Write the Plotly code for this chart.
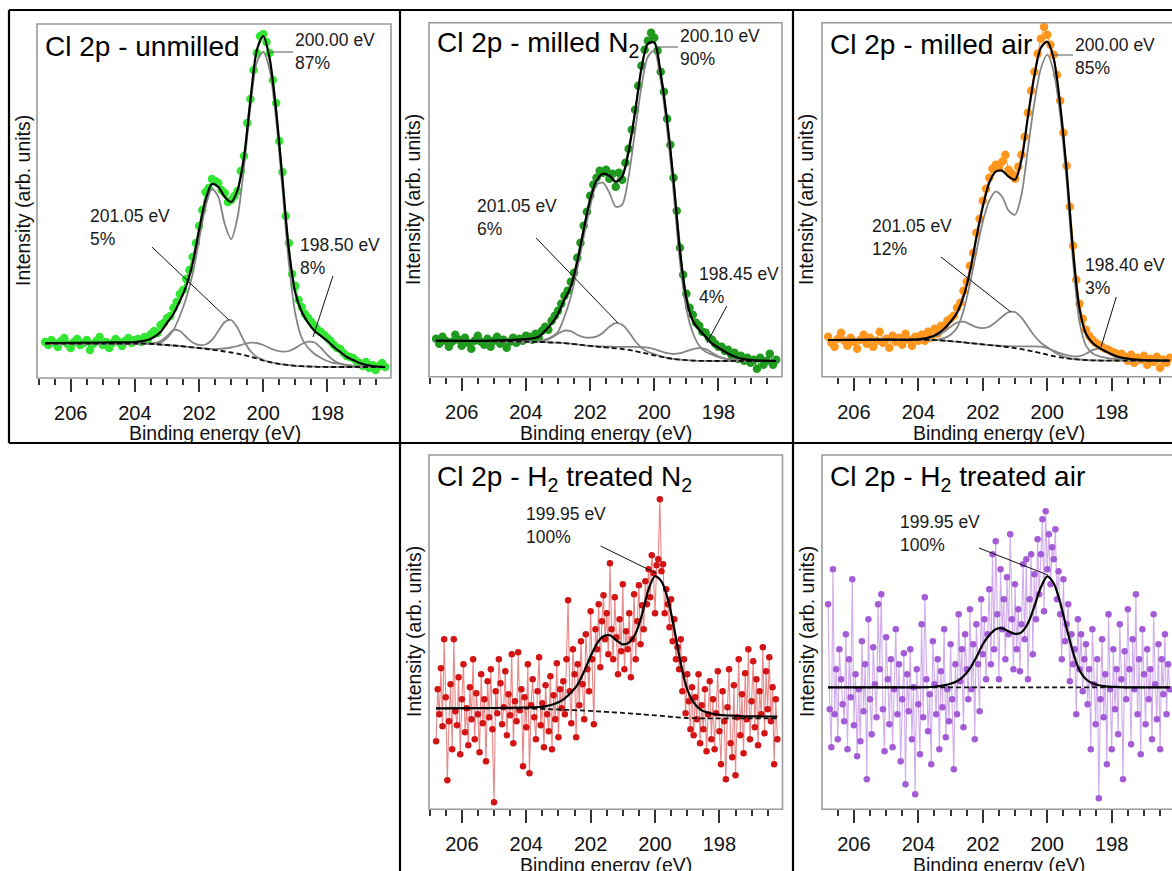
import plotly.graph_objects as go

FIG_W, FIG_H = 1172, 871
FONT = "Liberation Sans, Arial, Helvetica, sans-serif"

# ---------------- acquisition grids (binding energy, eV) ----------------
TOP_E_START, TOP_E_STEP = 206.8, 0.1
BOT_E_START, BOT_E_STEP = 206.8, 0.05

KNOTS = [206.8, 205.0, 204.0, 203.6, 203.4, 203.2, 203.0, 202.8, 202.6, 202.4,
         202.2, 202.0, 201.8, 201.6, 201.4, 201.2, 201.0, 200.8, 200.6, 200.4,
         200.2, 200.0, 199.8, 199.6, 199.4, 199.2, 199.0, 198.8, 198.6, 198.4,
         198.2, 198.0, 197.8, 197.6, 197.4, 197.2, 197.0, 196.6, 196.2]
FLAT_KNOTS = [206.8, 196.2]

# ---------------- Cl 2p - unmilled ----------------
UNMILLED_DATA = [36, 33, 38, 35, 31, 37, 40, 34, 30, 36, 39, 33, 35, 38, 28, 34, 37, 41, 33, 36,
                 30, 35, 39, 36, 32, 37, 40, 35, 38,
                 39, 36, 41, 38, 44, 47, 45, 53, 55, 60,
                 62, 70, 76, 84, 88, 99, 108, 121, 135, 152,
                 168, 186, 190, 199, 197, 195, 188, 185, 176, 178,
                 182, 187, 207, 222, 255, 279, 308, 325, 342, 344,
                 336, 325, 298, 275, 237, 206, 162, 135, 104, 92,
                 78, 71, 64, 60, 56, 52, 48, 46, 43, 40,
                 37, 33, 30, 29, 25, 22, 21, 20, 17, 15,
                 12, 16, 10, 13, 8, 12, 15, 11]
UNMILLED_ENV = [35, 35.5, 36, 38, 41, 46, 55, 64, 77, 92, 115, 148, 178, 194, 191, 181, 176, 188, 221, 278,
                328, 342, 319, 268, 198, 128, 85, 66, 55, 47, 42, 37, 31, 26, 21, 18, 15, 12, 11]
UNMILLED_BG = [34.5, 34.5, 34.5, 34.3, 34, 33.5, 33, 32.5, 32, 31.3, 30.6, 30, 29.2, 28.3, 27.5, 26.5,
               25.5, 24.3, 23, 21.3, 19.5, 17.5, 16, 14.7, 13.6, 12.8, 12.2, 11.8, 11.5, 11.3, 11.1,
               11, 11, 11, 11, 11, 11, 11, 11]
UNMILLED_C200 = [34.5, 34.5, 34.5, 34.4, 34.5, 35.5, 40, 48, 62, 80, 104, 138, 171, 189, 181, 154, 139,
                 161, 211, 271, 316, 326, 308, 258, 188, 114, 64, 40, 30, 24, 20, 17, 15, 14, 13, 12.3,
                 12, 11.3, 11]
UNMILLED_C201 = [34.5, 34.5, 34.5, 34.4, 34.8, 37, 42, 48, 47, 41, 35.5, 33, 33.5, 38, 47, 56, 58, 50,
                 37, 27, 21, 18, 16, 14.7, 13.6, 12.8, 12.2, 11.8, 11.5, 11.3, 11.1, 11, 11, 11, 11,
                 11, 11, 11, 11]
UNMILLED_C198 = [34.5, 34.5, 34.5, 34.3, 34, 33.5, 33, 32.5, 32, 31.3, 30.6, 30, 29.5, 29, 29, 29.5,
                 30.5, 32, 34, 35.3, 35, 33, 30, 27.5, 26.3, 27, 30, 34, 36.3, 35.5, 30, 23, 17.5,
                 14.5, 12.8, 12, 11.5, 11.1, 11]

# ---------------- Cl 2p - milled N2 ----------------
MILLED_N2_DATA = [38, 33, 40, 36, 30, 35, 42, 37, 31, 39, 34, 28, 36, 41, 35, 32, 38, 30, 36, 40,
                  33, 37, 29, 35, 39, 34, 38, 36, 41,
                  40, 37, 43, 39, 46, 50, 47, 56, 61, 66,
                  73, 81, 86, 95, 104, 119, 134, 151, 165, 181,
                  192, 199, 206, 204, 207, 198, 203, 190, 204, 197,
                  214, 228, 247, 267, 291, 311, 327, 336, 344, 339,
                  326, 305, 285, 258, 232, 199, 166, 129, 102, 83,
                  69, 62, 54, 51, 45, 44, 39, 37, 33, 30,
                  30, 26, 27, 22, 24, 18, 21, 16, 19, 14,
                  17, 8, 19, 12, 16, 23, 12, 17]
MILLED_N2_ENV = [36, 36, 37.5, 40, 46, 53, 63, 77, 90, 115, 147, 177, 196, 203, 201, 195, 200, 225, 264,
                 308, 333, 334, 303, 256, 196, 126, 78, 56, 47, 40, 33, 29, 25, 21.5, 19, 17.5, 16.5,
                 16, 15.7]
MILLED_N2_BG = [35.5, 35.5, 35, 34.8, 34.5, 34.2, 34, 33.6, 33, 32.3, 31.5, 30.8, 30, 29.5, 29, 28.4,
                27.7, 26.8, 25.6, 24.2, 22.8, 21.3, 20, 18.7, 17.7, 17, 16.5, 16.1, 15.9, 15.8, 15.7,
                15.7, 15.7, 15.7, 15.7, 15.7, 15.7, 15.7, 15.7]
MILLED_N2_C200 = [35.5, 35.5, 35, 35, 37, 40, 45, 60, 80, 108, 140, 170, 192, 194, 184, 170, 172, 200,
                  245, 290, 320, 326, 296, 247, 185, 115, 68, 44, 31, 25, 22, 19.5, 18, 17, 16.5,
                  16.2, 16, 15.8, 15.7]
MILLED_N2_C201 = [35.5, 35.5, 35, 35, 36, 39, 43, 46, 45.5, 42, 39.5, 39, 40, 44, 50, 53.5, 52, 45, 36,
                  29, 25, 22.5, 20.5, 18.9, 17.8, 17, 16.5, 16.1, 15.9, 15.8, 15.7, 15.7, 15.7, 15.7,
                  15.7, 15.7, 15.7, 15.7, 15.7]
MILLED_N2_C198 = [35.5, 35.5, 35, 34.8, 34.5, 34.2, 34, 33.6, 33, 32.3, 31.5, 30.8, 30.5, 30.2, 30,
                  29.8, 29.8, 29.8, 29.8, 29.6, 29, 27.5, 25.5, 23.5, 22.7, 23.5, 25.5, 27.5, 28.5,
                  27.5, 24, 20.5, 18, 16.8, 16.2, 15.9, 15.8, 15.7, 15.7]

# ---------------- Cl 2p - milled air ----------------
MILLED_AIR_DATA = [40, 34, 30, 38, 44, 36, 31, 39, 35, 28, 37, 42, 33, 39, 30, 36, 45, 34, 38, 29,
                   41, 35, 39, 32, 43, 37, 31, 40, 36,
                   42, 36, 45, 39, 48, 43, 51, 50, 56, 58,
                   61, 69, 74, 86, 95, 111, 124, 144, 158, 176,
                   188, 199, 208, 212, 209, 215, 222, 207, 203, 198,
                   210, 222, 240, 264, 286, 305, 323, 338, 350, 342,
                   332, 322, 302, 276, 244, 211, 170, 131, 97, 73,
                   58, 47, 41, 37, 34, 32, 30, 28, 27, 25,
                   24, 19, 23, 20, 16, 22, 14, 19, 17, 21,
                   12, 18, 15, 20, 9, 17, 14, 19]
MILLED_AIR_ENV = [36.7, 37, 37.3, 40, 43, 48, 55, 64, 80, 105, 139, 170, 194, 205, 206, 200, 197, 217,
                  260, 301, 329, 335, 318, 272, 206, 126, 68, 43, 34, 29, 25.5, 22.5, 20, 18.5, 17.5,
                  17, 16.5, 16.2, 16]
MILLED_AIR_BG = [36.7, 37, 37, 36.8, 36.5, 36, 35.5, 35, 34.3, 33.5, 33, 32.3, 31.5, 31, 30.2, 29.5,
                 28.5, 27.5, 26.3, 25, 23.5, 22, 20.5, 19.3, 18.3, 17.5, 17, 16.6, 16.4, 16.2, 16, 16,
                 16, 16, 16, 16, 16, 16, 16]
MILLED_AIR_C200 = [36.7, 37, 37, 36.8, 37, 38.5, 42, 49, 66, 93, 125, 155, 176, 185, 180, 166, 162, 182,
                   228, 274, 308, 322, 305, 262, 196, 115, 55, 31, 23.5, 20.5, 19, 18, 17.3, 16.8,
                   16.5, 16.3, 16.1, 16, 16]
MILLED_AIR_C201 = [36.7, 37, 37.2, 39, 41.5, 45, 50, 54, 55, 52.5, 49.5, 48.5, 50, 54.5, 60, 64.5, 64.5,
                   59, 50, 41, 34, 29.5, 25, 21.5, 19.2, 17.9, 17.2, 16.7, 16.4, 16.2, 16, 16, 16, 16,
                   16, 16, 16, 16, 16]
MILLED_AIR_C198 = [36.7, 37, 37, 36.8, 36.5, 36, 35.5, 35, 34.3, 33.5, 33, 32.3, 31.6, 31.2, 30.8, 30.5,
                   30.3, 30.3, 30.4, 30.4, 30, 28.5, 26, 23.5, 21.5, 20.3, 20.5, 23, 26.5, 28.2, 26,
                   21.5, 18.5, 17, 16.4, 16.1, 16, 16, 16]

# ---------------- Cl 2p - H2 treated N2 ----------------
H2_N2_DATA = [68, 120, 95, 141, 83, 170, 112, 29, 88, 125,
              60, 170, 98, 84, 132, 55, 110, 145, 77, 101,
              64, 122, 90, 150, 70, 116, 95, 57, 135, 86,
              110, 48, 128, 92, 140, 80, 7, 118, 96, 150,
              126, 85, 102, 138, 74, 115, 94, 155, 66, 108,
              88, 157, 99, 120, 43, 112, 82, 145, 36, 104,
              130, 92, 70, 118, 152, 84, 106, 62, 124, 95,
              78, 133, 60, 114, 90, 146, 72, 120, 101, 128,
              95, 150, 209, 118, 86, 160, 135, 72, 145, 104,
              168, 125, 90, 175, 140, 118, 198, 150, 85, 180,
              160, 205, 142, 188, 214, 170, 196, 155, 246, 180,
              150, 212, 172, 135, 190, 158, 225, 140, 178, 160,
              196, 132, 170, 215, 150, 188, 224, 165, 204, 180,
              228, 205, 240, 212, 254, 236, 196, 244, 250, 310,
              238, 245, 196, 220, 205, 182, 210, 168, 190, 150,
              162, 140, 170, 118, 150, 96, 135, 108, 80, 122,
              74, 112, 90, 135, 66, 104, 80, 120, 58, 95,
              128, 70, 110, 60, 96, 138, 78, 45, 118, 88,
              30, 102, 140, 66, 52, 124, 34, 92, 150, 74,
              115, 56, 136, 90, 160, 70, 108, 148, 82, 130,
              64, 118, 95, 162, 76, 138, 100, 152, 88, 122,
              45, 110, 70]
H2_N2_ENV = [101, 101.3, 101.8, 102.3, 103, 104.5, 107, 111, 117, 125, 138, 153, 166, 173, 174, 169,
             165, 167, 176, 195, 220, 233, 228, 210, 180, 146, 120, 107, 100, 97, 95.5, 94.5, 94,
             93.6, 93.3, 93, 93, 92.8, 92.6]
H2_N2_BG = [101, 101, 100.7, 100.5, 100.3, 100, 99.8, 99.5, 99.2, 99, 98.7, 98.4, 98, 97.6, 97.2,
            96.8, 96.4, 96, 95.5, 95, 94.5, 94, 93.4, 92.8, 92.2, 91.7, 91.3, 91.1, 91, 91, 91, 91,
            91, 91, 91, 91, 91, 91, 91]

# ---------------- Cl 2p - H2 treated air ----------------
H2_AIR_DATA = [205, 100, 62, 240, 95, 140, 70, 160, 130, 105,
               88, 175, 60, 150, 112, 230, 84, 135, 53, 120,
               68, 168, 98, 145, 30, 190, 110, 75, 162, 125,
               92, 205, 140, 215, 100, 58, 172, 130, 85, 150,
               62, 120, 180, 95, 145, 48, 110, 156, 25, 135,
               98, 160, 70, 122, 15, 140, 105, 55, 185, 92,
               212, 130, 78, 115, 45, 168, 125, 95, 150, 60,
               138, 102, 180, 72, 120, 88, 165, 110, 40, 145,
               95, 195, 128, 160, 82, 175, 140, 110, 200, 120,
               165, 70, 185, 145, 98, 210, 155, 190, 130, 175,
               220, 145, 255, 160, 268, 195, 130, 240, 180, 210,
               150, 232, 175, 275, 190, 140, 225, 160, 200, 138,
               185, 245, 170, 250, 130, 210, 255, 155, 235, 190,
               270, 215, 255, 290, 198, 298, 240, 275, 225, 262,
               250, 280, 210, 238, 195, 150, 230, 168, 185, 205,
               128, 175, 145, 160, 95, 190, 140, 175, 118, 150,
               165, 105, 140, 60, 180, 125, 85, 150, 11, 110,
               170, 92, 135, 45, 195, 120, 60, 160, 100, 140,
               75, 185, 130, 30, 158, 110, 200, 140, 65, 170,
               120, 215, 95, 150, 55, 180, 135, 85, 160, 110,
               140, 70, 195, 125, 90, 165, 60, 150, 115, 175,
               95, 145, 120]
H2_AIR_ENV = [122, 122, 122, 122.3, 123, 124, 125.5, 128, 133, 141, 152, 165, 174, 180, 181, 178,
              175.5, 177, 186, 203, 222, 233, 226, 207, 181, 157, 139, 130, 126, 124, 123, 122.5,
              122.3, 122, 122, 122, 122, 122, 122]
H2_AIR_BG = [122, 122]

# ---------------- styling ----------------
GRAY = "#858585"
BOX = "#9a9a9a"

# panel geometry in pixels: x0, x1, y0(top), y1(bottom), energy left, energy right
GEOM = [
    (37, 391, 24, 378, 207.05, 196.02),
    (429, 782, 22.7, 376.7, 207.02, 196.02),
    (822, 1172, 22.7, 376.7, 206.99, 196.13),
    (429, 782.5, 455, 809.3, 207.02, 196.04),
    (822, 1172, 455, 809.3, 206.99, 196.13),
]

PANELS = [
    dict(title="Cl 2p - unmilled", data=UNMILLED_DATA, start=TOP_E_START, step=TOP_E_STEP,
         color="#33e633", line="#33e633", msize=8.5,
         comps=[UNMILLED_C200, UNMILLED_C201, UNMILLED_C198], bg=(KNOTS, UNMILLED_BG), env=UNMILLED_ENV,
         labels=[(199.07, 327, "200.00 eV<br>87%"), (205.46, 151, "201.05 eV<br>5%"),
                 (198.92, 121.5, "198.50 eV<br>8%")],
         leaders=[(199.88, 326, 199.07, 326, "#555555"), (203.47, 131, 201.07, 58, "#111111"),
                  (197.83, 102, 198.45, 41, "#111111")]),
    dict(title="Cl 2p - milled N<sub>2</sub>", data=MILLED_N2_DATA, start=TOP_E_START, step=TOP_E_STEP,
         color="#1f9a1f", line="#1f9a1f", msize=8.5,
         comps=[MILLED_N2_C200, MILLED_N2_C201, MILLED_N2_C198], bg=(KNOTS, MILLED_N2_BG), env=MILLED_N2_ENV,
         labels=[(199.26, 328.7, "200.10 eV<br>90%"), (205.58, 158.7, "201.05 eV<br>6%"),
                 (198.67, 91.2, "198.45 eV<br>4%")],
         leaders=[(199.92, 329.7, 199.26, 329.7, "#555555"), (203.68, 138.7, 201.13, 53.7, "#111111"),
                  (197.74, 70.7, 198.36, 33.7, "#111111")]),
    dict(title="Cl 2p - milled air", data=MILLED_AIR_DATA, start=TOP_E_START, step=TOP_E_STEP,
         color="#ff961e", line="#ff961e", msize=8.5,
         comps=[MILLED_AIR_C200, MILLED_AIR_C201, MILLED_AIR_C198], bg=(KNOTS, MILLED_AIR_BG), env=MILLED_AIR_ENV,
         labels=[(199.2, 319.7, "200.00 eV<br>85%"), (205.51, 138.7, "201.05 eV<br>12%"),
                 (198.89, 99.7, "198.40 eV<br>3%")],
         leaders=[(199.82, 321.7, 199.2, 321.7, "#555555"), (203.3, 119.7, 201.13, 64.7, "#111111"),
                  (197.86, 79.7, 198.33, 29.7, "#111111")]),
    dict(title="Cl 2p - H<sub>2</sub> treated N<sub>2</sub>", data=H2_N2_DATA, start=BOT_E_START, step=BOT_E_STEP,
         color="#d21414", line="rgba(210,20,20,0.5)", msize=6.5,
         comps=[], bg=(KNOTS, H2_N2_BG), env=H2_N2_ENV,
         labels=[(204.08, 283.8, "199.95 eV<br>100%")],
         leaders=[(201.69, 263.3, 199.98, 236.3, "#111111")]),
    dict(title="Cl 2p - H<sub>2</sub> treated air", data=H2_AIR_DATA, start=BOT_E_START, step=BOT_E_STEP,
         color="#a35cd6", line="rgba(163,92,214,0.5)", msize=6.5,
         comps=[], bg=(FLAT_KNOTS, H2_AIR_BG), env=H2_AIR_ENV,
         labels=[(204.64, 275.8, "199.95 eV<br>100%")],
         leaders=[(202.12, 261.3, 199.98, 234.3, "#111111")]),
]

XTITLE_POS = [(215, 433), (606, 433), (999, 433), (606, 865), (999, 865)]
YTITLE_POS = [(23, 201), (413, 200), (806, 200), (414, 632), (807, 632)]
TITLE_POS = [(43, 47), (435, 45), (828, 45), (435, 478), (828, 478)]


def fx(px):
    return px / FIG_W


def fy(py):
    return 1 - py / FIG_H


fig = go.Figure()
layout = dict(width=FIG_W, height=FIG_H, margin=dict(l=0, r=0, t=0, b=0),
              paper_bgcolor="white", plot_bgcolor="white", showlegend=False,
              font=dict(family=FONT, color="#111111"))
shapes, annotations = [], []

for i, (p, g) in enumerate(zip(PANELS, GEOM), start=1):
    xa = "x" if i == 1 else f"x{i}"
    ya = "y" if i == 1 else f"y{i}"
    x0, x1, y0, y1, e_left, e_right = g
    energies = [round(p["start"] - p["step"] * k, 3) for k in range(len(p["data"]))]

    fig.add_trace(go.Scatter(x=energies, y=p["data"], mode="lines+markers", xaxis=xa, yaxis=ya,
                             line=dict(color=p["line"], width=1.1),
                             marker=dict(color=p["color"], size=p["msize"])))
    for comp in p["comps"]:
        fig.add_trace(go.Scatter(x=KNOTS, y=comp, mode="lines", xaxis=xa, yaxis=ya,
                                 line=dict(color=GRAY, width=1.8, shape="spline", smoothing=0.8)))
    bgx, bgy = p["bg"]
    fig.add_trace(go.Scatter(x=bgx, y=bgy, mode="lines", xaxis=xa, yaxis=ya,
                             line=dict(color="#111111", width=1.8, dash="5px,3px",
                                       shape="spline", smoothing=0.8)))
    fig.add_trace(go.Scatter(x=KNOTS, y=p["env"], mode="lines", xaxis=xa, yaxis=ya,
                             line=dict(color="#000000", width=2.2, shape="spline", smoothing=0.8)))

    xkey = "xaxis" if i == 1 else f"xaxis{i}"
    ykey = "yaxis" if i == 1 else f"yaxis{i}"
    layout[xkey] = dict(domain=[fx(x0), fx(x1)], anchor=ya, range=[e_left, e_right],
                        showgrid=False, zeroline=False, showline=False,
                        tickmode="linear", tick0=200, dtick=2, ticks="outside", ticklen=13,
                        tickwidth=1.5, tickcolor="#333333", ticklabelstandoff=4,
                        tickfont=dict(family=FONT, size=20, color="#111111"),
                        minor=dict(dtick=0.5, tick0=200, ticks="outside", ticklen=6,
                                   tickwidth=1.5, tickcolor="#333333"))
    layout[ykey] = dict(domain=[fy(y1), fy(y0)], anchor=xa, range=[0, y1 - y0],
                        showgrid=False, zeroline=False, showline=False,
                        showticklabels=False, ticks="")

    # plot-area box
    shapes.append(dict(type="rect", xref=f"{xa} domain", yref=f"{ya} domain",
                       x0=0, x1=1.02 if x1 >= FIG_W else 1, y0=0, y1=1,
                       line=dict(color=BOX, width=1.6)))
    # leader lines
    for (ea, ia, eb, ib, col) in p["leaders"]:
        shapes.append(dict(type="line", xref=xa, yref=ya, x0=ea, y0=ia, x1=eb, y1=ib,
                           line=dict(color=col, width=1)))
    # peak labels
    for (e, inten, txt) in p["labels"]:
        annotations.append(dict(x=e, y=inten, xref=xa, yref=ya, text=txt, showarrow=False,
                                xanchor="left", yanchor="middle", align="left",
                                font=dict(family=FONT, size=17.5, color="#1a1a1a")))
    # panel title
    tx, ty = TITLE_POS[i - 1]
    annotations.append(dict(x=fx(tx), y=fy(ty), xref="paper", yref="paper", text=p["title"],
                            showarrow=False, xanchor="left", yanchor="middle",
                            font=dict(family=FONT, size=28, color="#000000")))
    # axis titles
    ax_, ay_ = XTITLE_POS[i - 1]
    annotations.append(dict(x=fx(ax_), y=fy(ay_), xref="paper", yref="paper",
                            text="Binding energy (eV)", showarrow=False,
                            xanchor="center", yanchor="middle",
                            font=dict(family=FONT, size=19.5, color="#111111")))
    bx_, by_ = YTITLE_POS[i - 1]
    annotations.append(dict(x=fx(bx_), y=fy(by_), xref="paper", yref="paper",
                            text="Intensity (arb. units)", showarrow=False, textangle=-90,
                            xanchor="center", yanchor="middle",
                            font=dict(family=FONT, size=19.5, color="#111111")))

# outer black frames
FRAME = dict(color="#000000", width=2.2)
for (xa0, ya0, xa1, ya1) in [(9, 10, 1172, 10), (9, 443, 1172, 443), (9, 10, 9, 443),
                             (400, 10, 400, 871), (793, 10, 793, 871)]:
    shapes.append(dict(type="line", xref="paper", yref="paper",
                       x0=fx(xa0), y0=fy(ya0), x1=fx(xa1), y1=fy(ya1), line=FRAME))

layout["shapes"] = shapes
layout["annotations"] = annotations
fig.update_layout(**layout)
fig.write_html("out.html")
